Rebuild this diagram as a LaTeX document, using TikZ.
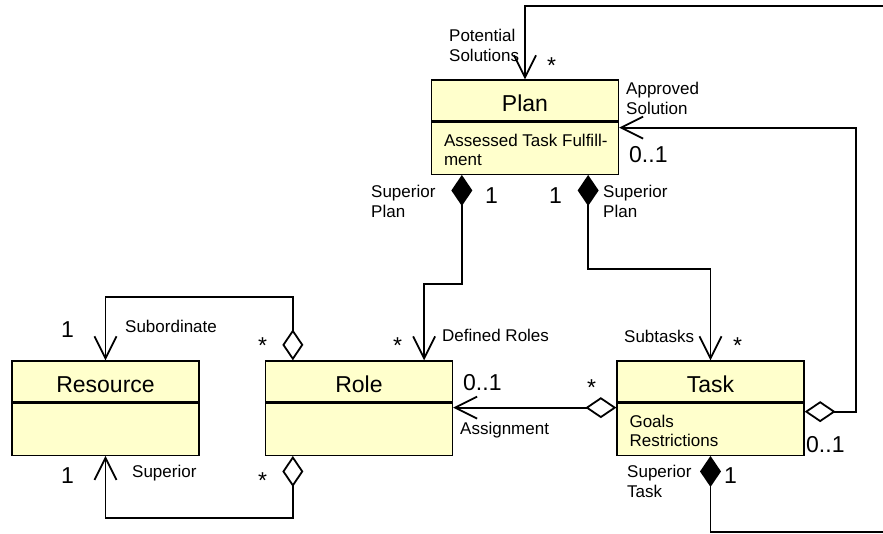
\documentclass[tikz,border=0pt]{standalone}
\usepackage{fontspec}
\setmainfont{Liberation Sans}
\usetikzlibrary{positioning}
\usetikzlibrary{arrows.meta}

\definecolor{classfill}{RGB}{255,255,204}

\tikzset{
    classname/.style={draw=black,line width=1.3pt,fill=classfill,minimum width=187pt,minimum height=41pt,inner sep=0pt,text height=22pt,text depth=0pt,font=\fontsize{23}{27}\selectfont},
    classattr/.style={draw=black,line width=1.3pt,fill=classfill,minimum width=187pt,minimum height=52pt,inner sep=0pt,anchor=north},
    attrtext/.style={inner sep=0pt,align=left,font=\fontsize{17}{19}\selectfont},
    rolename/.style={inner sep=0pt,align=left,font=\fontsize{17}{19.5}\selectfont},
    mult/.style={inner sep=0pt,anchor=base west,font=\fontsize{23}{27}\selectfont},
    link/.style={draw=black,line width=1.8pt},
    assoc/.style={link,-{Straight Barb[length=22pt,width=22pt]}},
    aggr/.style={link,{Diamond[open,length=31pt,width=21pt]}-{Straight Barb[length=22pt,width=22pt]}},
    comp/.style={link,{Diamond[length=31pt,width=21pt]}-{Straight Barb[length=22pt,width=22pt]}},
}

\begin{document}
\begin{tikzpicture}[x=1pt,y=-1pt]
    \useasboundingbox (0,0) rectangle (883,533);

    \node[classname] (plan) at (525,100.5) {Plan};
    \node[classattr] (planattr) at (plan.south) {};
    \node[classname] (resource) at (105.5,381.5) {Resource};
    \node[classattr] (resourceattr) at (resource.south) {};
    \node[classname] (role) at (359,381.5) {Role};
    \node[classattr] (roleattr) at (role.south) {};
    \node[classname] (task) at (710.5,381.5) {Task};
    \node[classattr] (taskattr) at (task.south) {};

    \node[attrtext,below right=12pt and 13pt of planattr.north west] (planattrtext) {Assessed Task Fulfill-\\ment};
    \node[attrtext,below right=12pt and 13pt of taskattr.north west] (taskattrtext) {Goals\\Restrictions};

    \coordinate (solin) at (883,6);
    \coordinate (subout) at (883,532);

    \path[assoc] (solin) -| (plan.north);
    \path[aggr] ([yshift=-9pt]taskattr.north east) -- ++(51,0) |- ([yshift=-6pt]planattr.north east);
    \path[comp] ([xshift=31pt]planattr.south west) -- ++(0,109) -| ([xshift=-29pt]role.north east);
    \path[comp] ([xshift=-31pt]planattr.south east) -- ++(0,94) -| (task.north);
    \path[aggr] ([xshift=28pt]role.north west) -- ++(0,-63) -| (resource.north);
    \path[aggr] ([xshift=28pt]roleattr.south west) -- ++(0,62) -| (resourceattr.south);
    \path[aggr] ([yshift=-5pt]taskattr.north west) -- ([yshift=-5pt]roleattr.north east);
    \path[link,{Diamond[length=31pt,width=21pt]}-] (taskattr.south) |- (subout);

    \node[rolename,anchor=north west] (potsol) at (449,29) {Potential\\Solutions};
    \node[mult] (potsolm) at (547,73) {*};
    \node[rolename,anchor=north west] (apprsol) at (626,82) {Approved\\Solution};
    \node[mult] (apprsolm) at (629,162) {0..1};
    \node[rolename,anchor=north west] (suprole) at (371,185) {Superior\\Plan};
    \node[mult] (suprolem) at (485,203) {1};
    \node[mult] (supsubm) at (549,203) {1};
    \node[rolename,anchor=north west] (supsub) at (603,185) {Superior\\Plan};
    \node[rolename,anchor=base west] (defroles) at (442,341) {Defined Roles};
    \node[mult] (defrolesm) at (393,353) {*};
    \node[rolename,anchor=base west] (subtasks) at (624,342) {Subtasks};
    \node[mult] (subtasksm) at (733,353) {*};
    \node[mult] (subordm) at (61,337) {1};
    \node[rolename,anchor=base west] (subord) at (125,332) {Subordinate};
    \node[mult] (subordaggm) at (258,353) {*};
    \node[mult] (superm) at (61,483) {1};
    \node[rolename,anchor=base west] (super) at (132,477) {Superior};
    \node[mult] (superaggm) at (258,488) {*};
    \node[mult] (assignm) at (463,390) {0..1};
    \node[mult] (assignaggm) at (587,395) {*};
    \node[rolename,anchor=base west] (assign) at (460,434) {Assignment};
    \node[mult] (apprsolaggm) at (806,452) {0..1};
    \node[rolename,anchor=north west] (suptask) at (627,465) {Superior\\Task};
    \node[mult] (suptaskm) at (724,483) {1};
\end{tikzpicture}
\end{document}
